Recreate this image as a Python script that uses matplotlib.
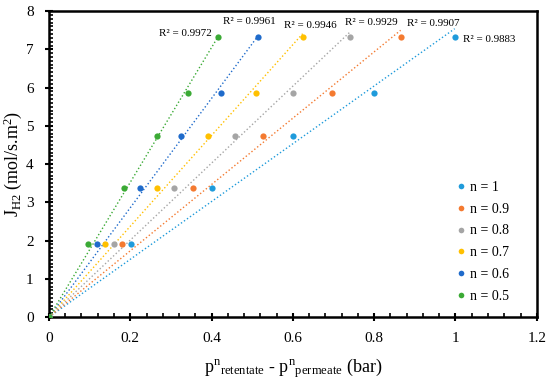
import numpy as np
import matplotlib
matplotlib.use('Agg')
import matplotlib.pyplot as plt
from matplotlib.ticker import MultipleLocator

plt.rcParams['font.family'] = ['Liberation Serif', 'DejaVu Serif']
plt.rcParams['mathtext.fontset'] = 'custom'
plt.rcParams['mathtext.rm'] = 'Liberation Serif'
plt.rcParams['mathtext.it'] = 'Liberation Serif:italic'

# ============= Data
fluxH2 = [1.92, 3.38, 4.73, 5.87, 7.33]
seriesLabels = ['n = 1', 'n = 0.9', 'n = 0.8', 'n = 0.7', 'n = 0.6', 'n = 0.5']
pressureDiff = [
    [0.201, 0.400, 0.600, 0.799, 0.998],
    [0.179, 0.354, 0.526, 0.697, 0.865],
    [0.159, 0.308, 0.457, 0.600, 0.741],
    [0.138, 0.266, 0.390, 0.509, 0.624],
    [0.117, 0.224, 0.326, 0.423, 0.515],
    [0.097, 0.185, 0.266, 0.342, 0.416],
]
rSquared = ['0.9883', '0.9907', '0.9929', '0.9946', '0.9961', '0.9972']
colors = ['#1F9BDB', '#F47A30', '#A5A5A5', '#FFC000', '#1F6BCB', '#3BAA35']
# label positions (data coords) and alignment
labelPos = [(1.082, 7.27, 'center'), (0.946, 7.68, 'center'), (0.792, 7.69, 'center'),
            (0.643, 7.63, 'center'), (0.492, 7.72, 'center'), (0.400, 7.42, 'right')]

# ============= Plot
fig = plt.figure(figsize=(5.5, 3.83), dpi=100)
ax = fig.add_axes([0.089, 0.172, 0.887, 0.799])

for x, lab, c, r2, pos in zip(pressureDiff, seriesLabels, colors, rSquared, labelPos):
    x = np.array([0.0] + x)
    y = np.array([0.0] + fluxH2)
    slope = np.sum(x * y) / np.sum(x * x)
    xl = np.array([0, x.max()])
    ax.plot(xl, slope * xl, ':', color=c, lw=1.0, zorder=2)
    ax.plot(x, y, 'o', color=c, ms=4.5, mec='none', label=lab, zorder=3)
    ax.text(pos[0], pos[1], 'R\u00b2 = ' + r2, ha=pos[2], va='center', fontsize=7.9)

ax.set_xlim(0, 1.2)
ax.set_ylim(0, 8)
ax.xaxis.set_major_locator(MultipleLocator(0.2))
ax.xaxis.set_minor_locator(MultipleLocator(0.04))
ax.yaxis.set_major_locator(MultipleLocator(1))
ax.yaxis.set_minor_locator(MultipleLocator(0.1))
ax.set_xticks(np.arange(0, 1.21, 0.2))
ax.set_xticklabels(['0', '0.2', '0.4', '0.6', '0.8', '1', '1.2'])
ax.tick_params(which='major', direction='inout', length=6, width=1.5, labelsize=11, pad=8, top=False, right=False)
ax.tick_params(which='minor', direction='in', length=3, width=1.2, top=False, right=False)
for s in ax.spines.values():
    s.set_linewidth(1.8)

ax.set_xlabel(r'p$^{\mathrm{n}}$$_{\mathrm{retentate}}$ - p$^{\mathrm{n}}$$_{\mathrm{permeate}}$ (bar)', fontsize=13, labelpad=8)
ax.set_ylabel(r'J$_{\mathrm{H2}}$ (mol/s.m$^{2}$)', fontsize=13)
ax.yaxis.set_label_coords(-0.052, 0.5)

ax.legend(loc='lower right', bbox_to_anchor=(0.968, 0.005), frameon=False, fontsize=10,
          handlelength=0.6, handletextpad=0.3, labelspacing=0.64, markerscale=0.9)

fig.savefig('out.png', dpi=100)
